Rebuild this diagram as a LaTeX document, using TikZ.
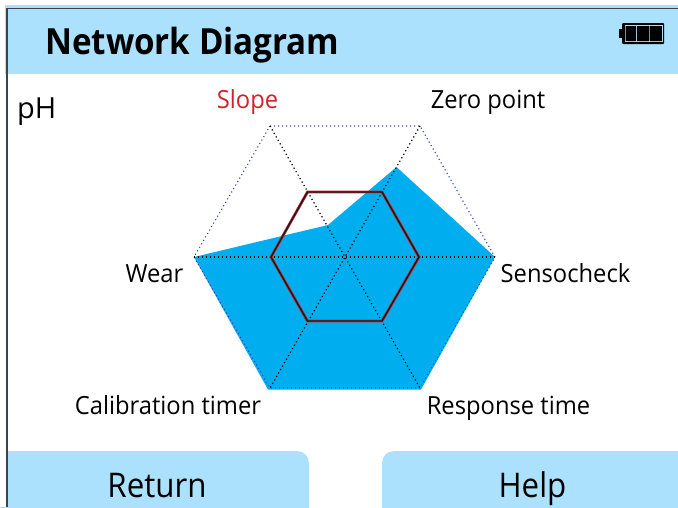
\documentclass[tikz,border=0pt]{standalone}
\usepackage{fontspec}
\setmainfont{Open Sans}
\definecolor{hdr}{RGB}{172,225,253}
\definecolor{fillb}{RGB}{0,174,239}
\definecolor{redl}{RGB}{200,40,50}
\definecolor{slope}{RGB}{210,35,42}
\definecolor{frame}{RGB}{60,68,75}
\definecolor{hexb}{RGB}{50,70,170}
\tikzset{
 lbl/.style={font=\fontsize{25}{28}\selectfont\addfontfeatures{FakeStretch=0.95},inner sep=0,anchor=base},
 btnt/.style={font=\fontsize{34}{38}\selectfont\addfontfeatures{FakeStretch=0.92},inner sep=0,anchor=base},
 spoke/.style={black,line width=1.2pt,dash pattern=on 1.2pt off 2.8pt},
 outerh/.style={hexb,line width=1.1pt,dash pattern=on 1.1pt off 2.9pt},
}
\begin{document}
\begin{tikzpicture}[x=1pt,y=-1pt]
\useasboundingbox (0,0) rectangle (678,507);
\fill[white] (0,0) rectangle (678,507);
% header
\fill[hdr] (5,5) rectangle (678,74);
\draw[frame,line width=1.5pt] (7,507) -- (7,8.7) -- (678,8.7);
\node[inner sep=0,anchor=base west,font=\fontsize{36}{40}\selectfont\bfseries\addfontfeatures{FakeStretch=0.92}] (title) at (45,54) {Network Diagram};
% battery
\fill[black,rounded corners=1pt] (622,23) rectangle (664,44);
\fill[black] (619,29) rectangle (622,38);
\draw[hdr,line width=0.7pt] (625,25.5) rectangle (662,41.5) (636.5,25.5) -- (636.5,41.5) (649,25.5) -- (649,41.5);
\fill[black] (625.5,26) rectangle (636,41) (637,26) rectangle (648.5,41) (649.5,26) rectangle (661.5,41);
\node[inner sep=0,anchor=base west,font=\fontsize{29}{32}\selectfont] (ph) at (17,118) {pH};
% coordinates
\coordinate (c) at (345,257);
\coordinate (oa) at (270,126);
\coordinate (ob) at (420,126);
\coordinate (oc) at (495,257);
\coordinate (od) at (420,388);
\coordinate (oe) at (270,388);
\coordinate (of) at (194,257);
% data
\fill[fillb] (of) -- (328,225) -- (396.5,167) -- (oc) -- (421,389.5) -- (268,389.5) -- cycle;
% web
\draw[outerh] (oa) -- (ob) -- (oc) -- (od) -- (oe) -- (of) -- cycle;
\draw[spoke] (oa) -- (od);
\draw[spoke] (ob) -- (oe);
\draw[spoke] (of) -- (oc);
% ref hexagon
\draw[redl,line width=2.8pt,line join=miter] (271,257) -- (307.5,192) -- (382,192) -- (419,257) -- (382,321) -- (307.5,321) -- cycle;
\draw[black!90,line width=1.4pt] (271,257) -- (307.5,192) -- (382,192) -- (419,257) -- (382,321) -- (307.5,321) -- cycle;
% labels
\node[lbl,text=slope] (l1) at (247.5,108) {Slope};
\node[lbl] (l2) at (488,108) {Zero point};
\node[lbl] (l3) at (565.5,282) {Sensocheck};
\node[lbl] (l4) at (508.5,414) {Response time};
\node[lbl] (l5) at (168,414) {Calibration timer};
\node[lbl] (l6) at (154.5,282) {Wear};
% buttons
\fill[hdr,rounded corners=12pt] (-20,530) -- (-20,451) -- (309,451) -- (309,530) -- cycle;
\fill[hdr,rounded corners=12pt] (700,530) -- (700,451) -- (382,451) -- (382,530) -- cycle;
\fill[white] (0,440) rectangle (6.2,507);
\draw[frame,line width=1.5pt] (7,440) -- (7,507);
\node[btnt] (ret) at (157,497) {Return};
\node[btnt] (hlp) at (532.5,497) {Help};
\end{tikzpicture}
\end{document}
